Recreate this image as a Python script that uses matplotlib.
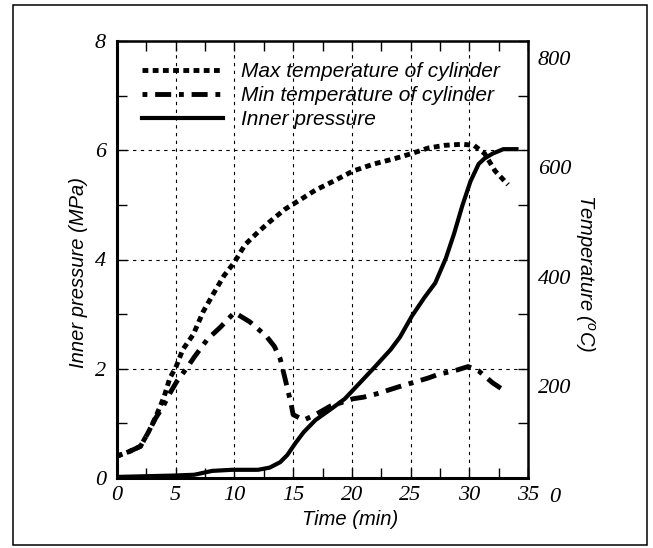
import matplotlib
matplotlib.use("Agg")
import matplotlib.pyplot as plt
import matplotlib.patches as patches
import matplotlib.transforms as mtransforms
from matplotlib.lines import Line2D

plt.rcParams['font.family'] = ['Liberation Serif', 'DejaVu Serif']
plt.rcParams['font.style'] = 'italic'
plt.rcParams['mathtext.fontset'] = 'custom'
plt.rcParams['mathtext.rm'] = 'Liberation Sans'
plt.rcParams['mathtext.it'] = 'Liberation Sans:italic'

# ------ dane ------
t_max = [0, 1, 2, 2.7, 3.3, 4, 4.5, 5, 5.6, 6.5, 7.35, 8.2, 9.1, 10, 10.9, 12, 13,
         14.3, 15.5, 16.9, 18.4, 20.1, 21.9, 23.7, 25.1, 26.5, 27.9, 29.4, 30.4,
         31.3, 32.2, 33.3]
T_max = [40, 48, 58, 85, 112, 148, 183, 202, 235, 263, 305, 337, 370, 395, 427, 450,
         469, 492, 508, 527, 543, 562, 575, 585, 594, 604, 609, 611, 609, 594, 562, 537]

t_min = [0, 1, 2, 2.7, 3.3, 3.9, 4.5, 5.1, 6, 6.6, 7.7, 8.8, 10, 11.3, 12.7, 13.4,
         13.9, 14.3, 14.8, 15.0, 15.9, 16.9, 18.2, 19.1, 20.1, 21, 22.1, 24, 25.1,
         26.5, 27.4, 28.7, 29.9, 30.8, 32, 33.2]
T_min = [40, 48, 58, 85, 110, 130, 155, 177, 203, 222, 254, 276, 303, 286, 260, 241,
         218, 183, 138, 116, 106, 116, 132, 138, 145, 148, 154, 167, 174, 183, 190,
         196, 204, 196, 174, 157]

t_p = [0, 4.9, 6.6, 8.1, 9.8, 12, 13, 13.9, 14.5, 15.2, 15.9, 16.9, 18.4, 19.4, 20.5,
       21.9, 23.3, 24.1, 25.1, 26.2, 27.1, 28, 28.7, 29.4, 30.1, 30.8, 31.3, 32, 32.9, 34.2]
P = [0.02, 0.045, 0.06, 0.13, 0.15, 0.15, 0.19, 0.29, 0.42, 0.64, 0.84, 1.06, 1.29,
     1.45, 1.70, 2.02, 2.35, 2.58, 2.96, 3.31, 3.57, 4.02, 4.47, 4.98, 5.43, 5.75,
     5.85, 5.94, 6.02, 6.02]

x_ticks = [0, 5, 10, 15, 20, 25, 30, 35]
p_ticks = [0, 2, 4, 6, 8]
temp_ticks = [0, 200, 400, 600, 800]

labels = ['Max temperature of cylinder', 'Min temperature of cylinder', 'Inner pressure']

# ------ styl ------
txt_font = dict(family='Liberation Sans', style='italic', size=14.5)
dotted = (0, (1.2, 0.9))
dashdot = (0, (1, 1.6, 3.3, 1.6))
grid_ls = (0, (3, 4))

fig = plt.figure(figsize=(6.53, 5.48), dpi=100)
ax = fig.add_axes([117 / 653, 70 / 548, 411 / 653, 437 / 548])
ax2 = ax.twinx()

# ramka dookoła całości
frame = patches.Rectangle((13 / 653, 3 / 548), 634 / 653, 540 / 548, transform=fig.transFigure,
                          fill=False, edgecolor='black', linewidth=1.1)
fig.patches.append(frame)

ax.plot(t_p, P, color='black', linewidth=3, solid_capstyle='butt')
ax2.plot(t_max, T_max, color='black', linewidth=3.5, linestyle=dotted)
ax2.plot(t_min, T_min, color='black', linewidth=3.5, linestyle=dashdot)

ax.set_xlim(0, 35)
ax.set_ylim(0, 8)
ax2.set_ylim(0, 800)

ax.set_xticks(x_ticks)
ax.set_xticks([v + 2.5 for v in x_ticks[:-1]], minor=True)
ax.set_yticks(p_ticks)
ax.set_yticks([v + 1 for v in p_ticks[:-1]], minor=True)
ax.set_xticklabels([str(v) for v in x_ticks])
ax.set_yticklabels([str(v) for v in p_ticks])
ax.tick_params(which='both', direction='in', top=True, right=True, length=7, width=1,
               labelsize=16)
ax.tick_params(axis='x', pad=6)
ax.tick_params(axis='y', pad=8)

ax.grid(which='major', color='black', linestyle=grid_ls, linewidth=0.8)

ax2.set_yticks(temp_ticks)
ax2.set_yticklabels([str(v) for v in temp_ticks])
ax2.tick_params(length=0, pad=19, labelsize=16)
for sp in ax2.spines.values():
    sp.set_visible(False)

for name, sp in ax.spines.items():
    sp.set_linewidth(2.2 if name in ('left', 'bottom') else 1.8)

ax.set_xlabel('Time (min)', fontdict=txt_font, va='top')
ax.xaxis.set_label_coords(0.567, -0.073)
ax.set_ylabel('Inner pressure (MPa)', fontdict=txt_font)
ax.yaxis.set_label_coords(-0.07, 0.47)
ax2.set_ylabel(r'Temperature ($^{o}$C)', fontdict=txt_font, rotation=270, va='bottom')
ax2.yaxis.set_label_coords(1.11, 0.47)

# etykiety prawej osi są przesunięte w dół i wyśrodkowane
offset = mtransforms.ScaledTranslation(0, -0.17, fig.dpi_scale_trans)
for tk in ax2.yaxis.get_major_ticks():
    tk.label2.set_horizontalalignment('center')
    tk.label2.set_transform(tk.label2.get_transform() + offset)

handles = [Line2D([], [], color='black', linewidth=3.5, linestyle=dotted),
           Line2D([], [], color='black', linewidth=3.5, linestyle=dashdot),
           Line2D([], [], color='black', linewidth=3)]
leg = ax2.legend(handles, labels, loc='upper left', bbox_to_anchor=(0.06, 0.952),
                 frameon=False, prop=dict(family='Liberation Sans', style='italic', size=15),
                 handlelength=3.9, handletextpad=0.85, borderpad=0, borderaxespad=0,
                 labelspacing=0.25)

fig.savefig('out.png', dpi=100)
